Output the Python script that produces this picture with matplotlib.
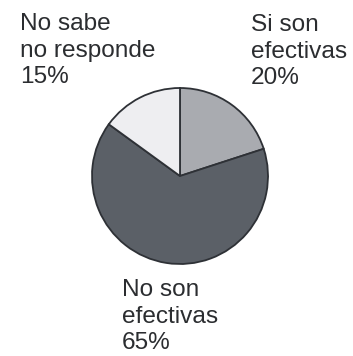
import matplotlib
matplotlib.use("Agg")
import matplotlib.pyplot as plt

# survey answers, clockwise from 12 o'clock
labels = ["Si son\nefectivas", "No son\nefectivas", "No sabe\nno responde"]
shares = [20, 65, 15]
colors = ["#a9abb0", "#5b6067", "#eeeef1"]

W, H = 353, 356
fig = plt.figure(figsize=(W / 100, H / 100), dpi=100)
ax = fig.add_axes([0, 0, 1, 1])

ax.pie(shares, colors=colors, startangle=90, counterclock=False,
       center=(180, H - 176), radius=88,
       wedgeprops=dict(edgecolor="#2e3136", linewidth=1.3))

# pie() resets the limits, so pin the pixel-sized frame afterwards
ax.set_xlim(0, W)
ax.set_ylim(0, H)
ax.set_aspect("equal")
ax.axis("off")

# labels sit outside the pie, one block per slice
label_pos = [(251, 14), (122, 279), (20, 13)]
for lab, pct, (x, y) in zip(labels, shares, label_pos):
    ax.text(x, H - y, f"{lab}\n{pct}%", ha="left", va="top",
            fontsize=17.6, family="Liberation Sans", color="#2b2d30",
            linespacing=1.27)

fig.savefig("out.png", dpi=100, facecolor="white")
